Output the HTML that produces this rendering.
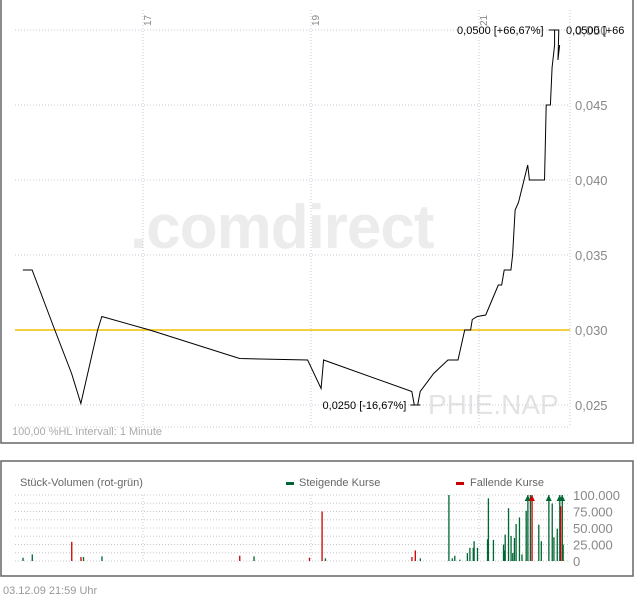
<!DOCTYPE html>
<html><head><meta charset="utf-8"><style>
html,body{margin:0;padding:0;background:#fff;width:634px;height:597px;overflow:hidden}
svg{display:block;font-family:"Liberation Sans",sans-serif}
</style></head><body>
<svg width="634" height="597" viewBox="0 0 634 597">
<g id="main"></g>
<g id="vol"></g>
<text x="3" y="594" font-size="11" fill="#999">03.12.09    21:59 Uhr</text>
</svg>
<script>
const priceTicks=[0.025,0.030,0.035,0.040,0.045,0.050];
const priceTickLabels=["0,025","0,030","0,035","0,040","0,045","0,050"];
const hourTicks=[17,19,21];
const refPrice=0.030;
// time in hours, price
const times=[15.57,15.68,15.95,16.15,16.26,16.46,16.51,17.08,18.15,18.96,19.12,19.15,20.20,20.23,20.27,20.30,20.46,20.63,20.75,20.83,20.90,20.92,20.98,21.08,21.23,21.27,21.30,21.38,21.40,21.43,21.47,21.58,21.60,21.63,21.65,21.78,21.80,21.85,21.87,21.90,21.90,21.92,21.95,21.94,21.96];
const prices=[0.0340,0.0340,0.0300,0.0271,0.0251,0.0300,0.0309,0.0300,0.0281,0.0280,0.0261,0.0280,0.0259,0.0250,0.0250,0.0259,0.0271,0.0280,0.0280,0.0300,0.0300,0.0307,0.0309,0.0310,0.0330,0.0330,0.0340,0.0340,0.0350,0.0380,0.0385,0.0410,0.0400,0.0400,0.0400,0.0400,0.0450,0.0450,0.0475,0.0490,0.0500,0.0500,0.0500,0.0480,0.0490];
const volTimes=[15.57,15.68,16.15,16.26,16.29,16.51,18.15,18.32,18.98,19.13,19.17,20.20,20.24,20.30,20.64,20.68,20.71,20.77,20.86,20.89,20.93,20.94,20.98,21.10,21.11,21.17,21.29,21.30,21.31,21.35,21.38,21.40,21.42,21.44,21.48,21.51,21.56,21.58,21.61,21.63,21.71,21.74,21.83,21.87,21.89,21.93,21.96,21.97,21.99,22.00];
const volumes=[5000,10000,29000,6000,6000,7000,8000,7000,5000,75000,4000,6000,16000,4000,100000,4000,8000,2000,12000,20000,20000,30000,20000,33000,95000,32000,25000,16000,40000,80000,38000,12000,35000,56000,66000,10000,76000,120000,100000,120000,55000,30000,120000,87000,36000,49000,120000,83000,120000,25000];
const volUp=[1,1,0,0,1,1,0,1,0,0,1,0,0,1,1,1,1,1,1,1,1,1,1,1,1,1,1,1,1,1,1,1,1,1,1,1,1,1,1,0,1,1,1,1,1,1,1,0,1,1];
const volTicks=[0,25000,50000,75000,100000];
const volTickLabels=["0","25.000","50.000","75.000","100.000"];

const NS="http://www.w3.org/2000/svg";
function mk(p,t,a){const e=document.createElementNS(NS,t);for(const k in a)e.setAttribute(k,a[k]);p.appendChild(e);return e;}
const xS=h=>143+(h-17)*84;
const yS=v=>405-(v-0.025)/0.005*75;
const vY=v=>561-Math.min(v,100000)/100000*66;
const M=document.getElementById('main'),V=document.getElementById('vol');

let e=mk(M,'rect',{x:1,y:-2,width:632,height:445,fill:'#fff',stroke:'#666','stroke-width':1.5});

e=mk(M,'text',{x:130,y:248,'font-size':62,'font-weight':'bold',fill:'#ececec','letter-spacing':'-1'});e.textContent='.comdirect';

e=mk(M,'text',{x:428,y:414,'font-size':28,fill:'#e3e3e3'});e.textContent='PHIE.NAP';

priceTicks.forEach((v,i)=>{
 let l=mk(M,'line',{x1:15,x2:570,y1:yS(v),y2:yS(v),stroke:'#c8c8d8','stroke-dasharray':'1,2'});
 
 let t=mk(M,'text',{x:575,y:yS(v)+5,'font-size':13,fill:'#888'});t.textContent=priceTickLabels[i];
 
});
e=mk(M,'line',{x1:15,x2:570,y1:427,y2:427,stroke:'#c8c8d8','stroke-dasharray':'1,2'});

e=mk(M,'line',{x1:570,x2:570,y1:10,y2:427,stroke:'#c8c8d8','stroke-dasharray':'1,2'});

hourTicks.forEach(h=>{
 let l=mk(M,'line',{x1:xS(h),x2:xS(h),y1:10,y2:427,stroke:'#c8c8d8','stroke-dasharray':'1,2'});
 
 let t=mk(M,'text',{x:0,y:0,'font-size':10,fill:'#888',transform:`translate(${xS(h)+8},26) rotate(-90)`});t.textContent=String(h);
 
});
e=mk(M,'line',{x1:15,x2:570,y1:yS(refPrice),y2:yS(refPrice),stroke:'#f0c000','stroke-width':1.5});

e=mk(M,'polyline',{points:times.map((t,i)=>xS(t)+','+yS(prices[i])).join(' '),fill:'none',stroke:'#000','stroke-width':1});

const hi=Math.max(...prices),lo=Math.min(...prices);
const hiI=prices.indexOf(hi),loI=prices.indexOf(lo);
const hx=xS(times[hiI]),lx=xS(times[loI]);
e=mk(M,'line',{x1:hx-6,x2:hx+4,y1:yS(hi),y2:yS(hi),stroke:'#000'});

e=mk(M,'line',{x1:lx-4,x2:lx+6,y1:yS(lo),y2:yS(lo),stroke:'#000'});

const fmt=(v)=>v.toFixed(4).replace('.',',');
const pct=(v)=>((v/refPrice-1)*100);
const pf=(p)=>(p>=0?'+':'')+p.toFixed(2).replace('.',',')+'%';
e=mk(M,'text',{x:hx-11,y:yS(hi)+4,'font-size':11,'text-anchor':'end',fill:'#000'});e.textContent=fmt(hi)+' ['+pf(pct(hi))+']';

e=mk(M,'text',{x:566,y:yS(hi)+4,'font-size':11,fill:'#000'});e.textContent=fmt(hi)+' [+66';

e=mk(M,'text',{x:lx-8,y:yS(lo)+4,'font-size':11,'text-anchor':'end',fill:'#000'});e.textContent=fmt(lo)+' ['+pf(pct(lo))+']';

e=mk(M,'text',{x:12,y:435,'font-size':11,fill:'#aaa'});e.textContent='100,00 %HL    Intervall: 1 Minute';


e=mk(V,'rect',{x:1,y:461,width:632,height:115,fill:'#fff',stroke:'#666','stroke-width':1.5});

e=mk(V,'text',{x:20,y:486,'font-size':11,fill:'#666'});e.textContent='Stück-Volumen (rot-grün)';

e=mk(V,'rect',{x:286,y:482,width:8,height:3,fill:'#006633'});

e=mk(V,'text',{x:299,y:486,'font-size':11,fill:'#666'});e.textContent='Steigende Kurse';

e=mk(V,'rect',{x:456,y:482,width:8,height:3,fill:'#cc0000'});

e=mk(V,'text',{x:470,y:486,'font-size':11,fill:'#666'});e.textContent='Fallende Kurse';

for(let k=0;k<=8;k++){let v=k*12500;
 let l=mk(V,'line',{x1:15,x2:570,y1:vY(v),y2:vY(v),stroke:'#c8c8c8','stroke-dasharray':'1,2'});
 }
hourTicks.forEach(h=>{let l=mk(V,'line',{x1:xS(h),x2:xS(h),y1:495,y2:561,stroke:'#c8c8d8','stroke-dasharray':'1,2'});
 });
volTicks.forEach((v,i)=>{let t=mk(V,'text',{x:573,y:vY(v)+5,'font-size':13,fill:'#888'});t.textContent=volTickLabels[i];
 });
volTimes.forEach((t,i)=>{
 const c=volUp[i]?'#006633':'#cc0000',x=xS(t);
 let b=mk(V,'rect',{x:x-0.5,y:vY(volumes[i]),width:1.3,height:561-vY(volumes[i]),fill:c});
 
 if(volumes[i]>100000){let a=mk(V,'polygon',{points:`${x-3},501 ${x+3},501 ${x},495`,fill:c});
  }
});
</script>
</body></html>
